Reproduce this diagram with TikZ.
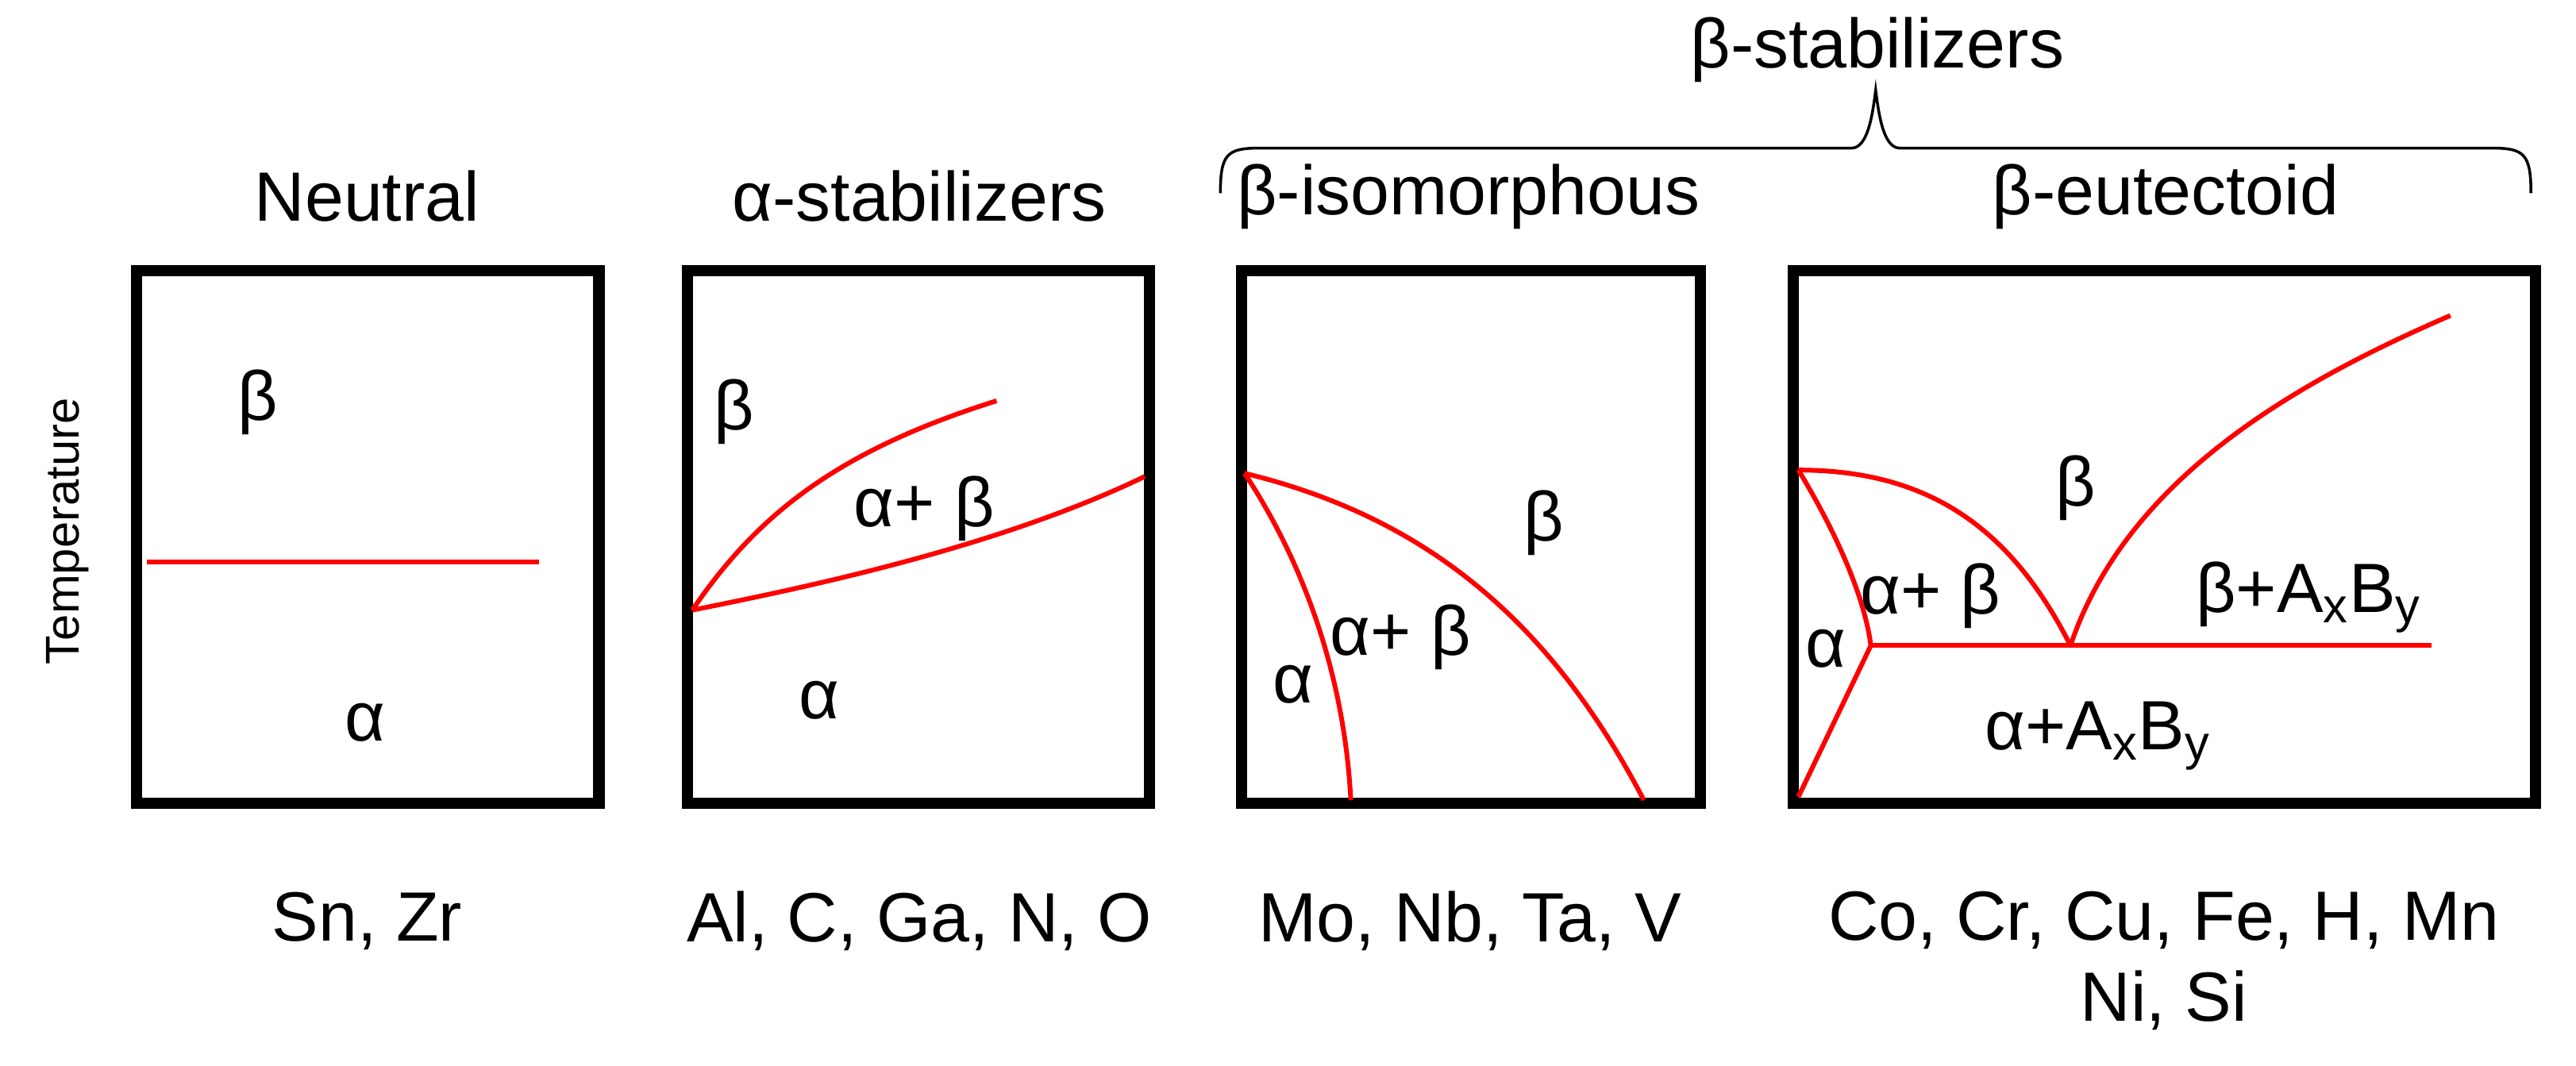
\documentclass[tikz,border=0pt]{standalone}
\usepackage{fontspec}
\setmainfont{Liberation Sans}
\tikzset{
  phasebox/.style={line width=4pt},
  phaseline/.style={red, line width=1.7pt},
  lbl/.style={font=\fontsize{25}{29}\selectfont},
}
\begin{document}
\begin{tikzpicture}[x=0.02028cm, y=-0.02028cm]
  \useasboundingbox (0,0) rectangle (1600,662);

  % Boxes
  \draw[phasebox] (85,168) rectangle (372,499);
  \draw[phasebox] (427,168) rectangle (714,499);
  \draw[phasebox] (771,168) rectangle (1056,499);
  \draw[phasebox] (1114,168) rectangle (1575,499);

  % Titles
  \node[lbl] (tneu) at (228,122) {Neutral};
  \node[lbl] (talp) at (571,122) {α-stabilizers};
  \node[lbl] (tiso) at (912,122) {β-isomorphous};
  \node[lbl] (teut) at (1345,122) {β-eutectoid};

  % Brace
  \draw[line width=1pt] (758,120) .. controls (758,96) and (762,92) .. (782,92)
    -- (1150,92) .. controls (1160,92) and (1163,72) .. (1165,56)
    .. controls (1167,72) and (1170,92) .. (1180,92)
    -- (1548,92) .. controls (1568,92) and (1572,96) .. (1572,120);
  \node[lbl] (tbeta) at (1166,31) {β-stabilizers};

  % Axis label
  \node[rotate=90, font=\fontsize{17}{20}\selectfont] (temp) at (42,330) {Temperature};

  % Neutral
  \draw[phaseline] (91,349) -- (335,349);
  \node[lbl] (n1) at (160,250) {β};
  \node[lbl] (n2) at (227,449) {α};

  % alpha-stabilizers
  \draw[phaseline] (430,379) .. controls (500,365) and (620,340) .. (711,296);
  \draw[phaseline] (430,379) .. controls (470,320) and (520,280) .. (619,249);
  \node[lbl] (a1) at (456,256) {β};
  \node[lbl] (a2) at (574,316) {α+ β};
  \node[lbl] (a3) at (509,435) {α};

  % beta-isomorphous
  \draw[phaseline] (773,294) .. controls (880,320) and (960,380) .. (1021,497);
  \draw[phaseline] (773,294) .. controls (810,350) and (835,420) .. (839,497);
  \node[lbl] (i1) at (803,425) {α};
  \node[lbl] (i2) at (870,396) {α+ β};
  \node[lbl] (i3) at (959,325) {β};

  % beta-eutectoid
  \coordinate (tp) at (1162,401);
  \coordinate (ep) at (1286,401);
  \draw[phaseline] (1117,292) .. controls (1140,330) and (1158,370) .. (tp);
  \draw[phaseline] (tp) -- (1117,495);
  \draw[phaseline] (tp) -- (1510,401);
  \draw[phaseline] (1117,292) .. controls (1200,292) and (1250,330) .. (ep);
  \draw[phaseline] (ep) .. controls (1320,300) and (1420,240) .. (1522,196);
  \node[lbl] (e1) at (1289,303) {β};
  \node[lbl] (e2) at (1199,370) {α+ β};
  \node[lbl] (e3) at (1134,403) {α};
  \node[lbl] (e4) at (1434,371) {β+A$_\mathrm{x}$B$_\mathrm{y}$};
  \node[lbl] (e5) at (1303,457) {α+A$_\mathrm{x}$B$_\mathrm{y}$};

  % Elements
  \node[lbl] (s1) at (228,572) {Sn, Zr};
  \node[lbl] (s2) at (571,572) {Al, C, Ga, N, O};
  \node[lbl] (s3) at (913,572) {Mo, Nb, Ta, V};
  \node[lbl, align=center] (s4) at (1344,597) {Co, Cr, Cu, Fe, H, Mn\\Ni, Si};
\end{tikzpicture}
\end{document}
